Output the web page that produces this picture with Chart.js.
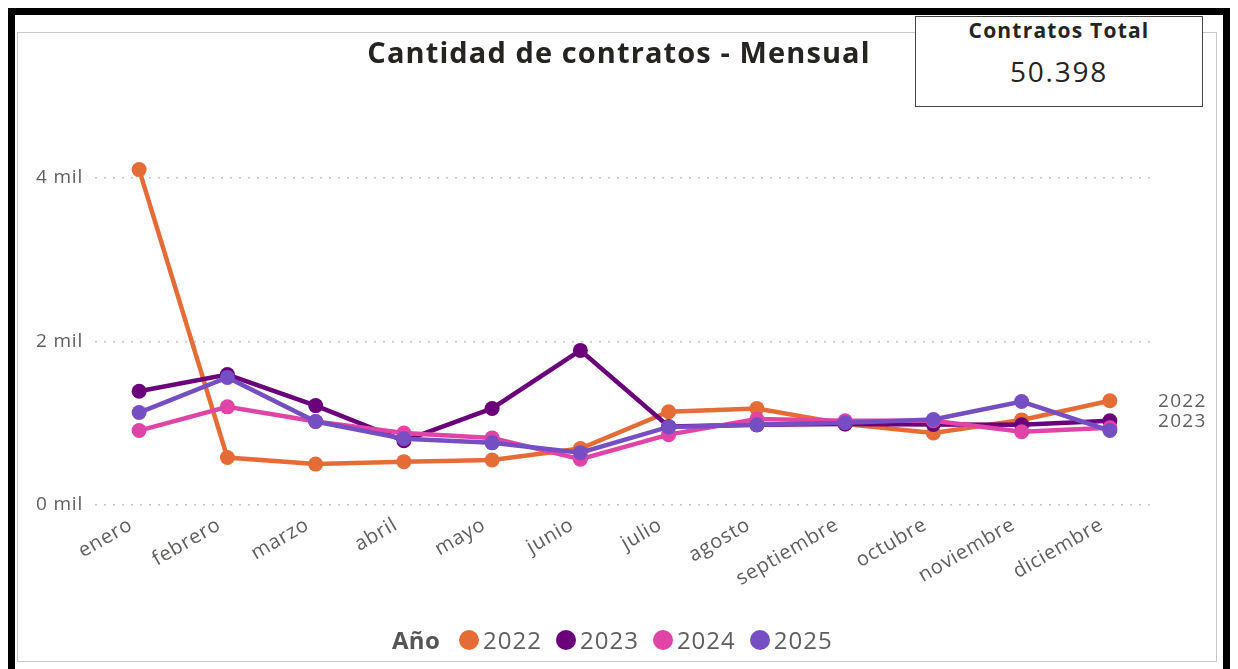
<!DOCTYPE html>
<html>
<head>
<meta charset="utf-8">
<script src="https://cdn.jsdelivr.net/npm/chart.js@4"></script>
<style>
  body { margin: 0; background: #fff; width: 1238px; height: 669px; overflow: hidden; position: relative; font-family: "Open Sans", sans-serif; }
  #frame { position: absolute; left: 8px; top: 8px; width: 1208px; height: 660px; border: 7px solid #000; }
  #inner { position: absolute; left: 17px; top: 32px; width: 1198px; height: 628px; border: 1px solid #c8c8c8; }
  #wrap { position: absolute; left: 18px; top: 33px; width: 1197px; height: 626px; }
  #titulo { position: absolute; left: 0; top: 37px; width: 1238px; text-align: center; font-weight: bold; font-size: 29px; line-height: 29px; letter-spacing: 1.1px; color: #252423; }
  #card { position: absolute; left: 915px; top: 16px; width: 286px; height: 89px; border: 1.5px solid #444; background: #fff; }
  #card div { position: absolute; left: 0; width: 100%; text-align: center; color: #252423; }
  #card .t { top: 3px; font-weight: bold; font-size: 21px; line-height: 21px; letter-spacing: 1.2px; }
  #card .v { top: 40px; font-size: 28px; line-height: 28px; letter-spacing: 1.8px; }
  #legend { position: absolute; top: 628px; left: 392px; display: flex; align-items: center; font-size: 24px; line-height: 24px; letter-spacing: 1px; color: #605E5C; }
  #legend .ttl { font-weight: bold; margin-right: 19px; color: #555; letter-spacing: 0.3px; }
  #legend .it { display: flex; align-items: center; margin-right: 14px; }
  #legend .dot { width: 20px; height: 20px; border-radius: 50%; margin-right: 4px; }
</style>
</head>
<body>
<div id="frame"></div>
<div id="inner"></div>
<div id="wrap"><canvas id="canvas1" width="1197" height="626"></canvas></div>
<div id="titulo">Cantidad de contratos - Mensual</div>
<div id="card"><div class="t">Contratos Total</div><div class="v">50.398</div></div>
<div id="legend"></div>
<script>
// Datos
let meses = ['enero', 'febrero', 'marzo', 'abril', 'mayo', 'junio', 'julio', 'agosto', 'septiembre', 'octubre', 'noviembre', 'diciembre'];
let anios = ['2022', '2023', '2024', '2025'];
let colores = ['#E66C37', '#6B007B', '#E044A7', '#744EC2'];

let datos2022 = [4100, 580, 500, 530, 550, 690, 1140, 1180, 990, 880, 1040, 1275];
let datos2023 = [1390, 1595, 1215, 785, 1180, 1890, 960, 980, 990, 985, 980, 1030];
let datos2024 = [910, 1200, 1020, 880, 820, 560, 860, 1050, 1030, 1030, 895, 945];
let datos2025 = [1130, 1560, 1020, 810, 760, 640, 955, 980, 1005, 1045, 1265, 910];
let series = [datos2022, datos2023, datos2024, datos2025];

let ticksY = [0, 2000, 4000];

// Leyenda html
let legend = document.getElementById('legend');
let html = '<span class="ttl">Año</span>';
anios.forEach((a, i) => {
    html += '<span class="it"><span class="dot" style="background:' + colores[i] + '"></span>' + a + '</span>';
});
legend.innerHTML = html;

// espaciado de letras un poco mas ancho (como el original)
let espaciado = {
    id: 'espaciado',
    beforeDraw(chart) { chart.ctx.letterSpacing = '0.8px'; }
};

// etiqueta al final de 2022 y 2023
let finLabels = {
    id: 'finLabels',
    afterDatasetsDraw(chart) {
        let ctx = chart.ctx;
        ctx.save();
        ctx.font = '19px "Open Sans"';
        ctx.letterSpacing = '1.3px';
        ctx.fillStyle = '#605E5C';
        ctx.textBaseline = 'middle';
        [0, 1].forEach(i => {
            let meta = chart.getDatasetMeta(i);
            let p = meta.data[meta.data.length - 1];
            ctx.fillText(anios[i], chart.chartArea.right + 4, p.y + 1);
        });
        ctx.restore();
    }
};

let ctx = document.getElementById('canvas1').getContext('2d');

let config = {
    type: 'line',
    data: {
        labels: meses,
        datasets: series.map((s, i) => ({
            label: anios[i],
            data: s,
            borderColor: colores[i],
            backgroundColor: colores[i],
            borderWidth: 4.5,
            pointRadius: 7.5,
            pointHoverRadius: 7.5,
            pointBorderWidth: 0,
            tension: 0,
            order: 3 - i
        }))
    },
    options: {
        responsive: false,
        animation: false,
        layout: { padding: { left: 0, right: 61, top: 63, bottom: 0 } },
        plugins: {
            legend: { display: false },
            tooltip: { enabled: false },
            title: { display: false }
        },
        scales: {
            x: {
                offset: true,
                grid: { display: false },
                border: { display: false },
                ticks: {
                    color: '#605E5C',
                    font: { family: 'Open Sans', size: 20 },
                    minRotation: 30,
                    maxRotation: 30,
                    padding: 0,
                    labelOffset: -8
                },
                afterFit: s => { s.height = 154; }
            },
            y: {
                min: 0,
                max: 5000,
                border: { display: false, dash: [2, 7] },
                grid: { color: '#c4c4c4', lineWidth: 1.5, drawTicks: false },
                afterBuildTicks: s => { s.ticks = ticksY.map(v => ({ value: v })); },
                ticks: {
                    color: '#605E5C',
                    font: { family: 'Open Sans', size: 19 },
                    padding: 12,
                    callback: v => (v / 1000) + ' mil'
                },
                afterFit: s => { s.width = 77; }
            }
        }
    },
    plugins: [espaciado, finLabels]
};

let chart = new Chart(ctx, config);
</script>
</body>
</html>
